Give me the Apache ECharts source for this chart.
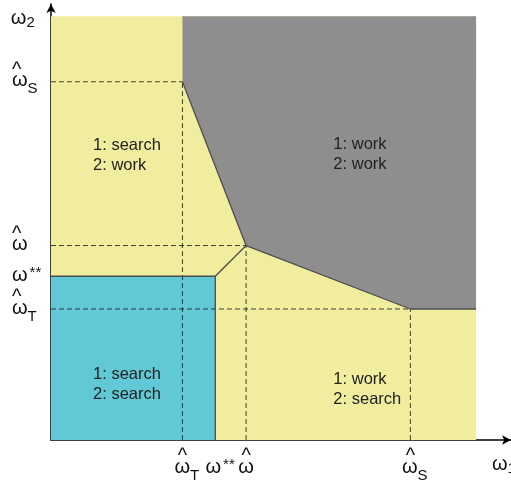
<!DOCTYPE html>
<html>
<head>
<meta charset="utf-8">
<script src="https://cdn.jsdelivr.net/npm/echarts@6/dist/echarts.min.js"></script>
<style>
  html, body { margin: 0; padding: 0; background: #ffffff; }
  #chart { width: 511px; height: 485px; }
</style>
</head>
<body>
<div id="chart"></div>
<script>
// Threshold wages, on the same scale for worker 1 (x) and worker 2 (y)
const W_T = 1.28;    // ω̂_T
const W_STAR = 1.6;  // ω**
const W_HAT = 1.9;   // ω̂
const W_S = 3.5;     // ω̂_S
const W_MAX = 4.14;  // edge of the shaded wage space

const tickValues = [W_T, W_STAR, W_HAT, W_S];
const tickKeys = ['T', 'star', 'hat', 'S'];

// Decision regions (corner points in wage space)
const yellowRegion = [[0, 0], [W_MAX, 0], [W_MAX, W_MAX], [0, W_MAX]];
const blueRegion = [[0, 0], [W_STAR, 0], [W_STAR, W_STAR], [0, W_STAR]];
const grayRegion = [[W_T, W_MAX], [W_T, W_S], [W_HAT, W_HAT], [W_S, W_T], [W_MAX, W_T], [W_MAX, W_MAX]];

// Solid region borders
const boundaries = [
  [[0, W_STAR], [W_STAR, W_STAR], [W_STAR, 0]],
  [[W_STAR, W_STAR], [W_HAT, W_HAT]],
  [[W_T, W_S], [W_HAT, W_HAT], [W_S, W_T], [W_MAX, W_T]]
];

// Dashed guides from the thresholds to the axes
const guides = [
  [[0, W_S], [W_T, W_S]],
  [[0, W_HAT], [W_HAT, W_HAT]],
  [[0, W_T], [W_S, W_T]],
  [[W_T, 0], [W_T, W_S]],
  [[W_HAT, 0], [W_HAT, W_HAT]],
  [[W_S, 0], [W_S, W_T]]
];

const regionTexts = ['1: search\n2: work', '1: work\n2: work', '1: search\n2: search', '1: work\n2: search'];
const regionTextAt = [[0.41, 2.78], [2.75, 2.79], [0.41, 0.54], [2.75, 0.49]];

const FONT = '"Liberation Sans", Arial, sans-serif';

const richStyles = {
  hat: { fontSize: 20, lineHeight: 1, fontFamily: FONT, color: '#111' },
  w: { fontSize: 20, lineHeight: 16, verticalAlign: 'top', fontFamily: FONT, color: '#111' },
  sub: { fontSize: 15, lineHeight: 16, verticalAlign: 'bottom', fontFamily: FONT, color: '#111' },
  sup: { fontSize: 15, lineHeight: 16, verticalAlign: 'top', fontFamily: FONT, color: '#111', padding: [0, 0, 0, 2] },
  // x-axis suffixes hang to the right of ω without widening the label box,
  // so each ω stays centred on its tick
  subX: { fontSize: 15, lineHeight: 16, verticalAlign: 'bottom', fontFamily: FONT, color: '#111', padding: [0, -9, 0, 0] },
  supX: { fontSize: 15, lineHeight: 16, verticalAlign: 'top', fontFamily: FONT, color: '#111', padding: [0, -10, 0, 2] },
  st: { fontSize: 1, lineHeight: 26, fontFamily: FONT, color: 'rgba(0,0,0,0)' },
  st2: { fontSize: 1, lineHeight: 22, fontFamily: FONT, color: 'rgba(0,0,0,0)' }
};

const xLabelText = {
  T: '{hat|^}\n{w|ω}{subX|T}{st| }',
  star: '{hat| }\n{w|ω}{supX|**}{st| }',
  hat: '{hat|^}\n{w|ω}{st| }',
  S: '{hat|^}\n{w|ω}{subX|S}{st| }'
};
const yLabelText = {
  T: '{hat|^}\n{w|ω}{sub|T}{st| }',
  star: '{hat| }\n{w|ω}{sup|**}{st| }',
  hat: '{hat|^}\n{w|ω}{st| }',
  S: '{hat|^}\n{w|ω}{sub|S}{st| }'
};

function keyOf(v) {
  let best = 0;
  tickValues.forEach((t, i) => { if (Math.abs(t - v) < Math.abs(tickValues[best] - v)) best = i; });
  return tickKeys[best];
}

function polygonSeries(points, color, z) {
  return {
    type: 'custom', coordinateSystem: 'cartesian2d', silent: true, z: z,
    data: points,
    renderItem(params, api) {
      if (params.dataIndex !== 0) return null;
      return {
        type: 'polygon',
        shape: { points: points.map(p => api.coord(p)) },
        style: { fill: color }
      };
    }
  };
}

function pathSeries(points, style, z) {
  return {
    type: 'line', data: points, symbol: 'none', silent: true, z: z,
    lineStyle: style, animation: false
  };
}

const series = [
  polygonSeries(yellowRegion, '#f1ed9f', 1),
  polygonSeries(blueRegion, '#61c8d6', 2),
  polygonSeries(grayRegion, '#8e8e8e', 2)
];
guides.forEach(g => series.push(pathSeries(g, { color: 'rgba(20,20,20,0.8)', width: 1, type: [5, 3] }, 3)));
boundaries.forEach(b => series.push(pathSeries(b, { color: '#4d4d4d', width: 1.3 }, 4)));
series.push({
  type: 'custom', coordinateSystem: 'cartesian2d', silent: true, z: 5,
  data: regionTextAt,
  renderItem(params, api) {
    const p = api.coord(regionTextAt[params.dataIndex]);
    return {
      type: 'text', x: p[0], y: p[1],
      style: {
        text: regionTexts[params.dataIndex],
        fontSize: 16.5, fontFamily: FONT, lineHeight: 20,
        fill: '#222', align: 'left', verticalAlign: 'middle'
      }
    };
  }
});

const chart = echarts.init(document.getElementById('chart'));
chart.setOption({
  animation: false,
  backgroundColor: '#ffffff',
  grid: { left: 51, top: 4, width: 460, height: 436, containLabel: false, outerBoundsMode: 'none' },
  xAxis: {
    type: 'value', min: 0, max: 4.48,
    splitLine: { show: false }, axisTick: { show: false },
    axisLine: { onZero: false, lineStyle: { color: '#000', width: 1.5 }, symbol: ['none', 'arrow'], symbolSize: [7, 9] },
    axisLabel: {
      customValues: tickValues, interval: 0, margin: 16, hideOverlap: false,
      showMinLabel: true, showMaxLabel: true,
      formatter: v => xLabelText[keyOf(v)], rich: richStyles
    },
    name: '{w|ω}{sub|1}{st2| }', nameLocation: 'end', nameGap: -19,
    nameTextStyle: { rich: richStyles, align: 'left', verticalAlign: 'top', padding: [14, 0, 0, 0] }
  },
  yAxis: {
    type: 'value', min: 0, max: 4.26,
    splitLine: { show: false }, axisTick: { show: false },
    axisLine: { onZero: false, lineStyle: { color: '#000', width: 1.5 }, symbol: ['none', 'arrow'], symbolSize: [7, 9] },
    axisLabel: {
      customValues: tickValues, interval: 0, margin: 39, align: 'left', hideOverlap: false,
      showMinLabel: true, showMaxLabel: true,
      padding: [3, 0, 0, 0],
      formatter: v => yLabelText[keyOf(v)], rich: richStyles
    },
    name: '{w|ω}{sub|2}{st2| }', nameLocation: 'end', nameGap: -26,
    nameTextStyle: { rich: richStyles, align: 'right', verticalAlign: 'bottom', padding: [0, 16, 0, 0] }
  },
  series: series
});
</script>
</body>
</html>
